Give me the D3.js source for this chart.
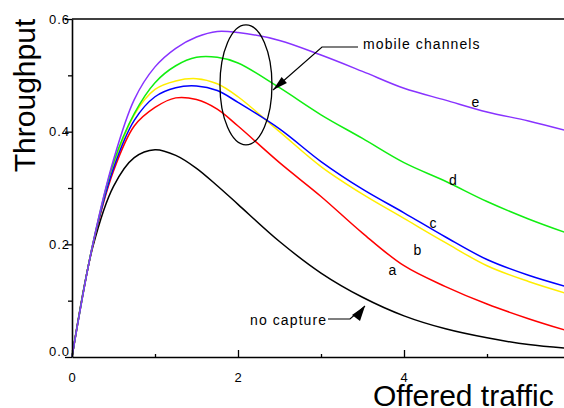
<!DOCTYPE html>
<html>
<head>
<meta charset="utf-8">
<script src="https://cdn.jsdelivr.net/npm/d3@7"></script>
<style>
  html, body { margin: 0; padding: 0; background: #fff; }
  svg { display: block; font-family: Arial, "Liberation Sans", Helvetica, sans-serif; }
</style>
</head>
<body>
<svg id="chart" width="564" height="408"></svg>
<script>
// Offered traffic (G) sample points
const offered = [0, 0.25, 0.5, 0.75, 1, 1.25, 1.5, 1.75, 2, 2.5, 3, 3.5, 4, 4.5, 5, 5.5, 6];

// Throughput for each channel model
const noCapture = [0, 0.195, 0.303, 0.354, 0.368, 0.358, 0.335, 0.304, 0.271, 0.205, 0.149, 0.106, 0.073, 0.050, 0.034, 0.022, 0.015];
const seriesA   = [0, 0.198, 0.330, 0.410, 0.443, 0.460, 0.457, 0.440, 0.410, 0.345, 0.285, 0.220, 0.162, 0.125, 0.094, 0.068, 0.045];
const seriesB   = [0, 0.200, 0.340, 0.430, 0.475, 0.490, 0.494, 0.485, 0.462, 0.400, 0.338, 0.289, 0.246, 0.203, 0.162, 0.134, 0.111];
const seriesC   = [0, 0.199, 0.335, 0.420, 0.462, 0.478, 0.481, 0.473, 0.452, 0.405, 0.347, 0.298, 0.256, 0.213, 0.173, 0.145, 0.123];
const seriesD   = [0, 0.200, 0.345, 0.432, 0.487, 0.517, 0.532, 0.532, 0.522, 0.478, 0.430, 0.388, 0.345, 0.312, 0.276, 0.245, 0.218];
const seriesE   = [0, 0.200, 0.350, 0.457, 0.515, 0.548, 0.568, 0.578, 0.576, 0.562, 0.536, 0.507, 0.477, 0.456, 0.435, 0.419, 0.400];

const curveNames  = ["no capture", "a", "b", "c", "d", "e"];
const curveValues = [noCapture, seriesA, seriesB, seriesC, seriesD, seriesE];
const curveColors = ["#000000", "#ff0000", "#ffee00", "#0000ff", "#11ee11", "#8833ff"];

// Where each curve letter sits, in data units
const letterPos = [null, [3.86, 0.155], [4.16, 0.19], [4.35, 0.238], [4.59, 0.314], [4.86, 0.453]];

const xMajorTicks = [0, 2, 4, 6];
const xMinorTicks = [1, 3, 5];
const yMajorTicks = [0, 0.2, 0.4, 0.6];
const yMinorTicks = [0.1, 0.3, 0.5];

const svg = d3.select("#chart");
const x = d3.scaleLinear().domain([0, 6]).range([72, 570]);
const y = d3.scaleLinear().domain([0, 0.6]).range([357, 19]);

// Curves
const line = d3.line()
  .x(d => x(d[0]))
  .y(d => y(d[1]))
  .curve(d3.curveCatmullRom.alpha(0.5));

curveValues.forEach((vals, i) => {
  svg.append("path")
    .datum(offered.map((g, j) => [g, vals[j]]))
    .attr("fill", "none")
    .attr("stroke", curveColors[i])
    .attr("stroke-width", 1.5)
    .attr("d", line);
});

// Frame: top border and right border
svg.append("line").attr("x1", x(0)).attr("x2", x(6)).attr("y1", y(0.6)).attr("y2", y(0.6))
  .attr("stroke", "#000").attr("stroke-width", 1.6);
svg.append("line").attr("x1", x(6)).attr("x2", x(6)).attr("y1", y(0.6)).attr("y2", y(0))
  .attr("stroke", "#000").attr("stroke-width", 1.6);

// X axis (ticks point into the plot)
svg.append("g").attr("transform", `translate(0,${y(0)})`)
  .call(d3.axisBottom(x).tickValues(xMajorTicks).tickFormat(d3.format("d"))
    .tickSizeInner(-7).tickSizeOuter(0).tickPadding(16));
svg.append("g").attr("transform", `translate(0,${y(0)})`)
  .call(d3.axisBottom(x).tickValues(xMinorTicks).tickFormat("")
    .tickSizeInner(-3).tickSizeOuter(0))
  .select(".domain").remove();

// Y axis (ticks point outward)
const yAxis = svg.append("g").attr("transform", `translate(${x(0)},0)`)
  .call(d3.axisLeft(y).tickValues(yMajorTicks).tickFormat(d3.format(".1f"))
    .tickSizeInner(7).tickSizeOuter(0).tickPadding(-5));
svg.append("g").attr("transform", `translate(${x(0)},0)`)
  .call(d3.axisLeft(y).tickValues(yMinorTicks).tickFormat("")
    .tickSizeInner(4).tickSizeOuter(0))
  .select(".domain").remove();

svg.selectAll(".domain").attr("stroke-width", 1.6);
svg.selectAll(".tick line").attr("stroke-width", 1.3);
svg.selectAll(".tick text")
  .attr("font-size", 13)
  .attr("letter-spacing", "1px")
  .attr("font-family", "Arial, 'Liberation Sans', sans-serif")
  .attr("fill", "#000");
// lift the zero label clear of the x axis line
yAxis.selectAll(".tick").filter(d => d === 0).select("text").attr("dy", "-0.1em");

// Axis titles
svg.append("text")
  .attr("transform", `translate(35,${(y(0.6) + 148) / 2 + 12}) rotate(-90)`)
  .attr("text-anchor", "middle")
  .attr("font-size", 30)
  .text("Throughput");

svg.append("text")
  .attr("x", 373)
  .attr("y", 406)
  .attr("font-size", 30)
  .text("Offered traffic");

// Curve letters
letterPos.forEach((p, i) => {
  if (!p) return;
  svg.append("text")
    .attr("x", x(p[0]))
    .attr("y", y(p[1]))
    .attr("text-anchor", "middle")
    .attr("dominant-baseline", "central")
    .attr("font-size", 14)
    .text(curveNames[i]);
});

// Annotation: ellipse around the mobile-channel curves
svg.append("ellipse")
  .attr("cx", x(2.096)).attr("cy", y(0.483))
  .attr("rx", 26).attr("ry", 60)
  .attr("fill", "none").attr("stroke", "#000").attr("stroke-width", 1.3);

function arrowHead(tip, from, len, half) {
  const dx = tip[0] - from[0], dy = tip[1] - from[1];
  const n = Math.hypot(dx, dy), ux = dx / n, uy = dy / n;
  const bx = tip[0] - ux * len, by = tip[1] - uy * len;
  return `M${tip[0]},${tip[1]}L${bx - uy * half},${by + ux * half}L${bx + uy * half},${by - ux * half}Z`;
}

// "mobile channels" leader
const mcTip = [273, 90], mcElbow = [322, 47];
svg.append("path")
  .attr("d", `M358,47L${mcElbow[0]},${mcElbow[1]}L${mcTip[0]},${mcTip[1]}`)
  .attr("fill", "none").attr("stroke", "#000").attr("stroke-width", 1.2);
svg.append("path").attr("d", arrowHead(mcTip, mcElbow, 15, 4)).attr("fill", "#000");
svg.append("text")
  .attr("x", 363).attr("y", 49)
  .attr("font-size", 14).attr("letter-spacing", "1.1px")
  .text("mobile channels");

// "no capture" leader
const ncTip = [365, 306], ncElbow = [350, 319];
svg.append("path")
  .attr("d", `M328,319L${ncElbow[0]},${ncElbow[1]}L${ncTip[0]},${ncTip[1]}`)
  .attr("fill", "none").attr("stroke", "#000").attr("stroke-width", 1.2);
svg.append("path").attr("d", arrowHead(ncTip, [353, 322], 15, 5)).attr("fill", "#000");
svg.append("text")
  .attr("x", 250).attr("y", 325)
  .attr("font-size", 14).attr("letter-spacing", "1.1px")
  .text(curveNames[0]);
</script>
</body>
</html>
